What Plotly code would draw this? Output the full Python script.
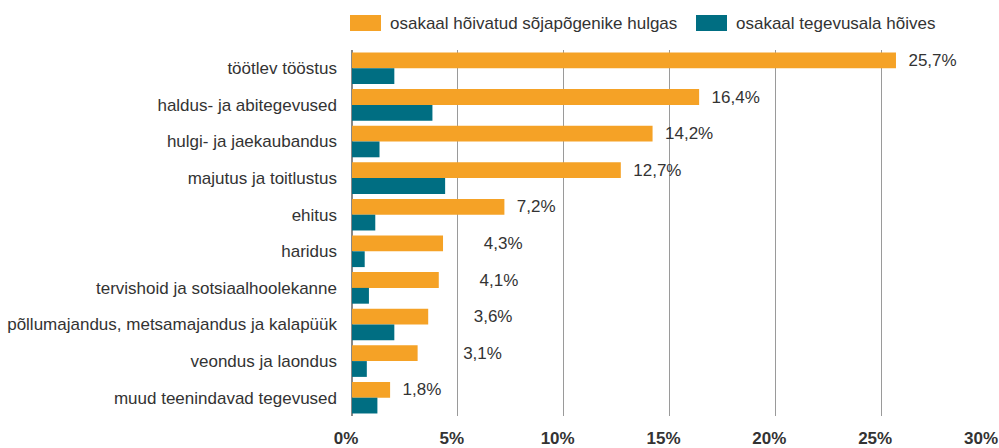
import plotly.graph_objects as go

categories = [
    "töötlev tööstus",
    "haldus- ja abitegevused",
    "hulgi- ja jaekaubandus",
    "majutus ja toitlustus",
    "ehitus",
    "haridus",
    "tervishoid ja sotsiaalhoolekanne",
    "põllumajandus, metsamajandus ja kalapüük",
    "veondus ja laondus",
    "muud teenindavad tegevused",
]
refugees_share = [25.7, 16.4, 14.2, 12.7, 7.2, 4.3, 4.1, 3.6, 3.1, 1.8]
sector_share = [2.0, 3.8, 1.3, 4.4, 1.1, 0.6, 0.8, 2.0, 0.7, 1.2]
series_names = ["osakaal hõivatud sõjapõgenike hulgas", "osakaal tegevusala hõives"]
x_ticks = [0, 5, 10, 15, 20, 25, 30]
x_tick_text = ["0%", "5%", "10%", "15%", "20%", "25%", "30%"]

# style: leading spaces before each value label (as laid out in the original)
label_indent = [2, 2, 2, 2, 2, 8, 8, 9, 9, 2]

ORANGE = "#F5A226"
TEAL = "#006E82"
TXT = "#333333"
FONT = "Liberation Sans, Arial, sans-serif"

W, H = 999, 448
ML, MR, MT, MB = 352, 12, 50, 32
PW, PH = W - ML - MR, H - MT - MB

labels = [" " * n + f"{v:.1f}".replace(".", ",") + "%" for v, n in zip(refugees_share, label_indent)]

fig = go.Figure()
fig.add_trace(go.Bar(
    y=categories, x=refugees_share, orientation="h", name=series_names[0],
    marker=dict(color=ORANGE, line=dict(width=0)),
    text=labels, texttemplate="%{text}", textposition="outside", cliponaxis=False,
    constraintext="none",
    textfont=dict(size=17, color=TXT, family=FONT),
    showlegend=False,
))
fig.add_trace(go.Bar(
    y=categories, x=sector_share, orientation="h", name=series_names[1],
    marker=dict(color=TEAL, line=dict(width=0)),
    showlegend=False,
))

# manual legend (swatches + labels) above the plot, in pixel-derived paper coords
def px_x(p):
    return (p - ML) / PW

def px_y(q):
    return (H - MB - q) / PH

legend_items = [(series_names[0], ORANGE, 350), (series_names[1], TEAL, 696)]
for name, col, x0 in legend_items:
    fig.add_shape(type="rect", xref="paper", yref="paper",
                  x0=px_x(x0), x1=px_x(x0 + 31), y0=px_y(31), y1=px_y(15),
                  fillcolor=col, line=dict(width=0), layer="above")
    fig.add_annotation(text=name, xref="paper", yref="paper",
                       x=px_x(x0 + 38), y=px_y(23), xanchor="left", yanchor="middle",
                       showarrow=False, font=dict(size=17, color=TXT, family=FONT))

fig.update_layout(
    width=W, height=H,
    margin=dict(l=ML, r=MR, t=MT, b=MB, autoexpand=False),
    barmode="group", bargap=0.137, bargroupgap=0.0,
    separators=", ",
    plot_bgcolor="white", paper_bgcolor="white",
    font=dict(family=FONT, size=17, color=TXT),
    showlegend=False,
)
fig.update_xaxes(
    range=[0, 30], tickvals=x_ticks, ticktext=x_tick_text,
    showgrid=True, gridcolor="#9a9a9a", gridwidth=1,
    zeroline=True, zerolinecolor="#888888", zerolinewidth=1.5,
    tickfont=dict(size=17, color=TXT, family=FONT, weight="bold"),
    ticks="", ticklabelstandoff=10, ticklabelshift=-6, automargin=False,
    fixedrange=True,
)
fig.update_yaxes(
    autorange="reversed", showgrid=False, ticks="", ticklabelstandoff=14,
    tickfont=dict(size=17, color=TXT, family=FONT), automargin=False,
    fixedrange=True,
)

fig.write_html("out.html", config={"displayModeBar": False, "staticPlot": True},
               post_script="document.body.style.margin='0';document.body.style.padding='0';")
